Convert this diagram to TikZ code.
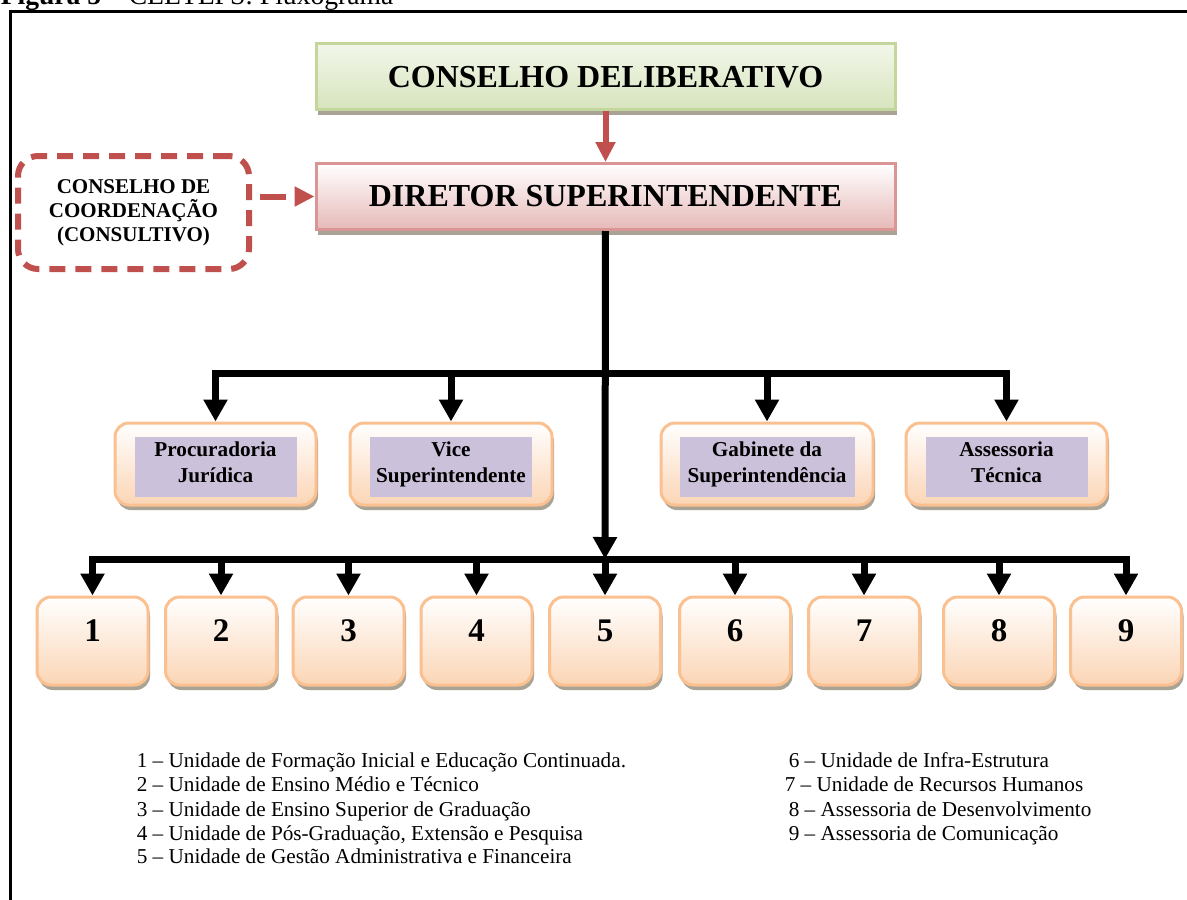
\documentclass[tikz,border=0pt]{standalone}
\usepackage{fontspec}
\setmainfont{Liberation Serif}
\usetikzlibrary{arrows.meta,shadows,positioning}

\definecolor{grnbot}{HTML}{D7E4BD}
\definecolor{grntop}{HTML}{F2F7EA}
\definecolor{grnline}{HTML}{C3D69B}
\definecolor{redbot}{HTML}{E6B9B8}
\definecolor{redline}{HTML}{D99694}
\definecolor{redarr}{HTML}{C0504D}
\definecolor{peach}{HTML}{FBD5B5}
\definecolor{peachline}{HTML}{FAC090}
\definecolor{lilac}{HTML}{CCC1DA}
\definecolor{shadowgray}{HTML}{A9A396}

\begin{document}
\begin{tikzpicture}[x=0.5pt,y=-0.5pt,>=Triangle,thick,
    topbox/.style={draw,line width=1.5pt,minimum width=289.5pt,minimum height=33pt,inner sep=0pt,
        font=\fontsize{16}{19}\selectfont\bfseries,
        drop shadow={shadow xshift=1pt,shadow yshift=-2.5pt,fill=shadowgray,opacity=1}},
    unitbox/.style={draw=peachline,line width=1.5pt,rounded corners=7pt,top color=white,bottom color=peach,
        minimum height=41pt,inner sep=0pt,
        drop shadow={shadow xshift=1pt,shadow yshift=-2.5pt,fill=shadowgray,opacity=1}},
    numbox/.style={unitbox,minimum width=55.5pt,minimum height=44pt,text depth=10pt,
        font=\fontsize{16.5}{19}\selectfont\bfseries},
    lilaclabel/.style={fill=lilac,minimum width=81pt,minimum height=30pt,inner sep=0pt,align=center,
        text depth=5pt,font=\fontsize{10.6}{13}\selectfont\bfseries},
    consbox/.style={draw=redarr,line width=3pt,dash pattern=on 8pt off 5pt,rounded corners=10pt,
        minimum width=115.5pt,minimum height=56.5pt,align=center,
        font=\fontsize{10.5}{12}\selectfont\bfseries},
    redarrow/.style={->,draw=redarr,line width=3pt,>={Triangle[width=9.5pt,length=10pt]}},
    tree/.style={->,line width=3.5pt,>={Triangle[width=11.5pt,length=11pt]}},
    legend/.style={anchor=base west,inner sep=0pt,font=\fontsize{10.6}{12}\selectfont}]

    \useasboundingbox (0,0) rectangle (1187,899);

    % frame and caption
    \draw[line width=1.5pt] (10,910) |- (1195,12);
    \node[anchor=base west,inner sep=0pt,font=\fontsize{13.8}{16}\selectfont] (fig) at (0,5)
        {\textbf{Figura 5} – CEETEPS: Fluxograma};

    % top of the chart
    \node[topbox,top color=grntop,bottom color=grnbot,draw=grnline] (cd) at (605.5,77) {CONSELHO DELIBERATIVO};
    \node[topbox,top color=white,bottom color=redbot,draw=redline] (ds) at (605.5,196.5) {DIRETOR SUPERINTENDENTE};
    \node[consbox] (cc) at (133.5,212.5) {CONSELHO DE\\COORDENAÇÃO\\(CONSULTIVO)};

    % advisory boxes
    \node[unitbox,minimum width=100.5pt] (pj) at (215.5,464) {};
    \node[unitbox,minimum width=101pt] (vs) at (451,464) {};
    \node[unitbox,minimum width=106pt] (gs) at (767,464) {};
    \node[unitbox,minimum width=100.5pt] (at) at (1006.5,464) {};
    \node[lilaclabel] (pjl) at ([yshift=-1.5pt]pj.center) {Procuradoria\\Jurídica};
    \node[lilaclabel] (vsl) at ([yshift=-1.5pt]vs.center) {Vice\\Superintendente};
    \node[lilaclabel,minimum width=87.5pt] (gsl) at ([yshift=-1.5pt]gs.center) {Gabinete da\\Superintendência};
    \node[lilaclabel] (atl) at ([yshift=-1.5pt]at.center) {Assessoria\\Técnica};

    % units
    \node[numbox] (n1) at (92.5,641) {1};
    \node[numbox] (n2) at (221,641) {2};
    \node[numbox] (n3) at (348.5,641) {3};
    \node[numbox] (n4) at (476.5,641) {4};
    \node[numbox] (n5) at (605,641) {5};
    \node[numbox] (n6) at (735,641) {6};
    \node[numbox] (n7) at (864,641) {7};
    \node[numbox] (n8) at (999,641) {8};
    \node[numbox] (n9) at (1126,641) {9};

    \coordinate (ub) at (605.5,373);
    \coordinate (lb) at (605,559);

    \draw[redarrow] (cd) -- (ds);
    \draw[redarrow,dash pattern=on 13pt off 5pt,shorten <=4pt] (cc.east |- ds.west) -- (ds.west);

    \draw[tree] (ds) -- (lb);
    \draw[tree] (ub) -| (pj);
    \draw[tree] (ub) -| (vs);
    \draw[tree] (ub) -| (gs);
    \draw[tree] (ub) -| (at);

    \draw[tree] (lb) -| (n1);
    \draw[tree] (lb) -| (n2);
    \draw[tree] (lb) -| (n3);
    \draw[tree] (lb) -| (n4);
    \draw[tree] (lb) -- (n5);
    \draw[tree] (lb) -| (n6);
    \draw[tree] (lb) -| (n7);
    \draw[tree] (lb) -| (n8);
    \draw[tree] (lb) -| (n9);

    % legend
    \node[legend] (l1) at (136,767) {1 – Unidade de Formação Inicial e Educação Continuada.};
    \node[legend] (l2) at (136,791) {2 – Unidade de Ensino Médio e Técnico};
    \node[legend] (l3) at (136,816) {3 – Unidade de Ensino Superior de Graduação};
    \node[legend] (l4) at (136,840) {4 – Unidade de Pós-Graduação, Extensão e Pesquisa};
    \node[legend] (l5) at (136,863) {5 – Unidade de Gestão Administrativa e Financeira};
    \node[legend] (l6) at (788,767) {6 – Unidade de Infra-Estrutura};
    \node[legend] (l7) at (784,791) {7 – Unidade de Recursos Humanos};
    \node[legend] (l8) at (788,816) {8 – Assessoria de Desenvolvimento};
    \node[legend] (l9) at (788,840) {9 – Assessoria de Comunicação};
\end{tikzpicture}
\end{document}
